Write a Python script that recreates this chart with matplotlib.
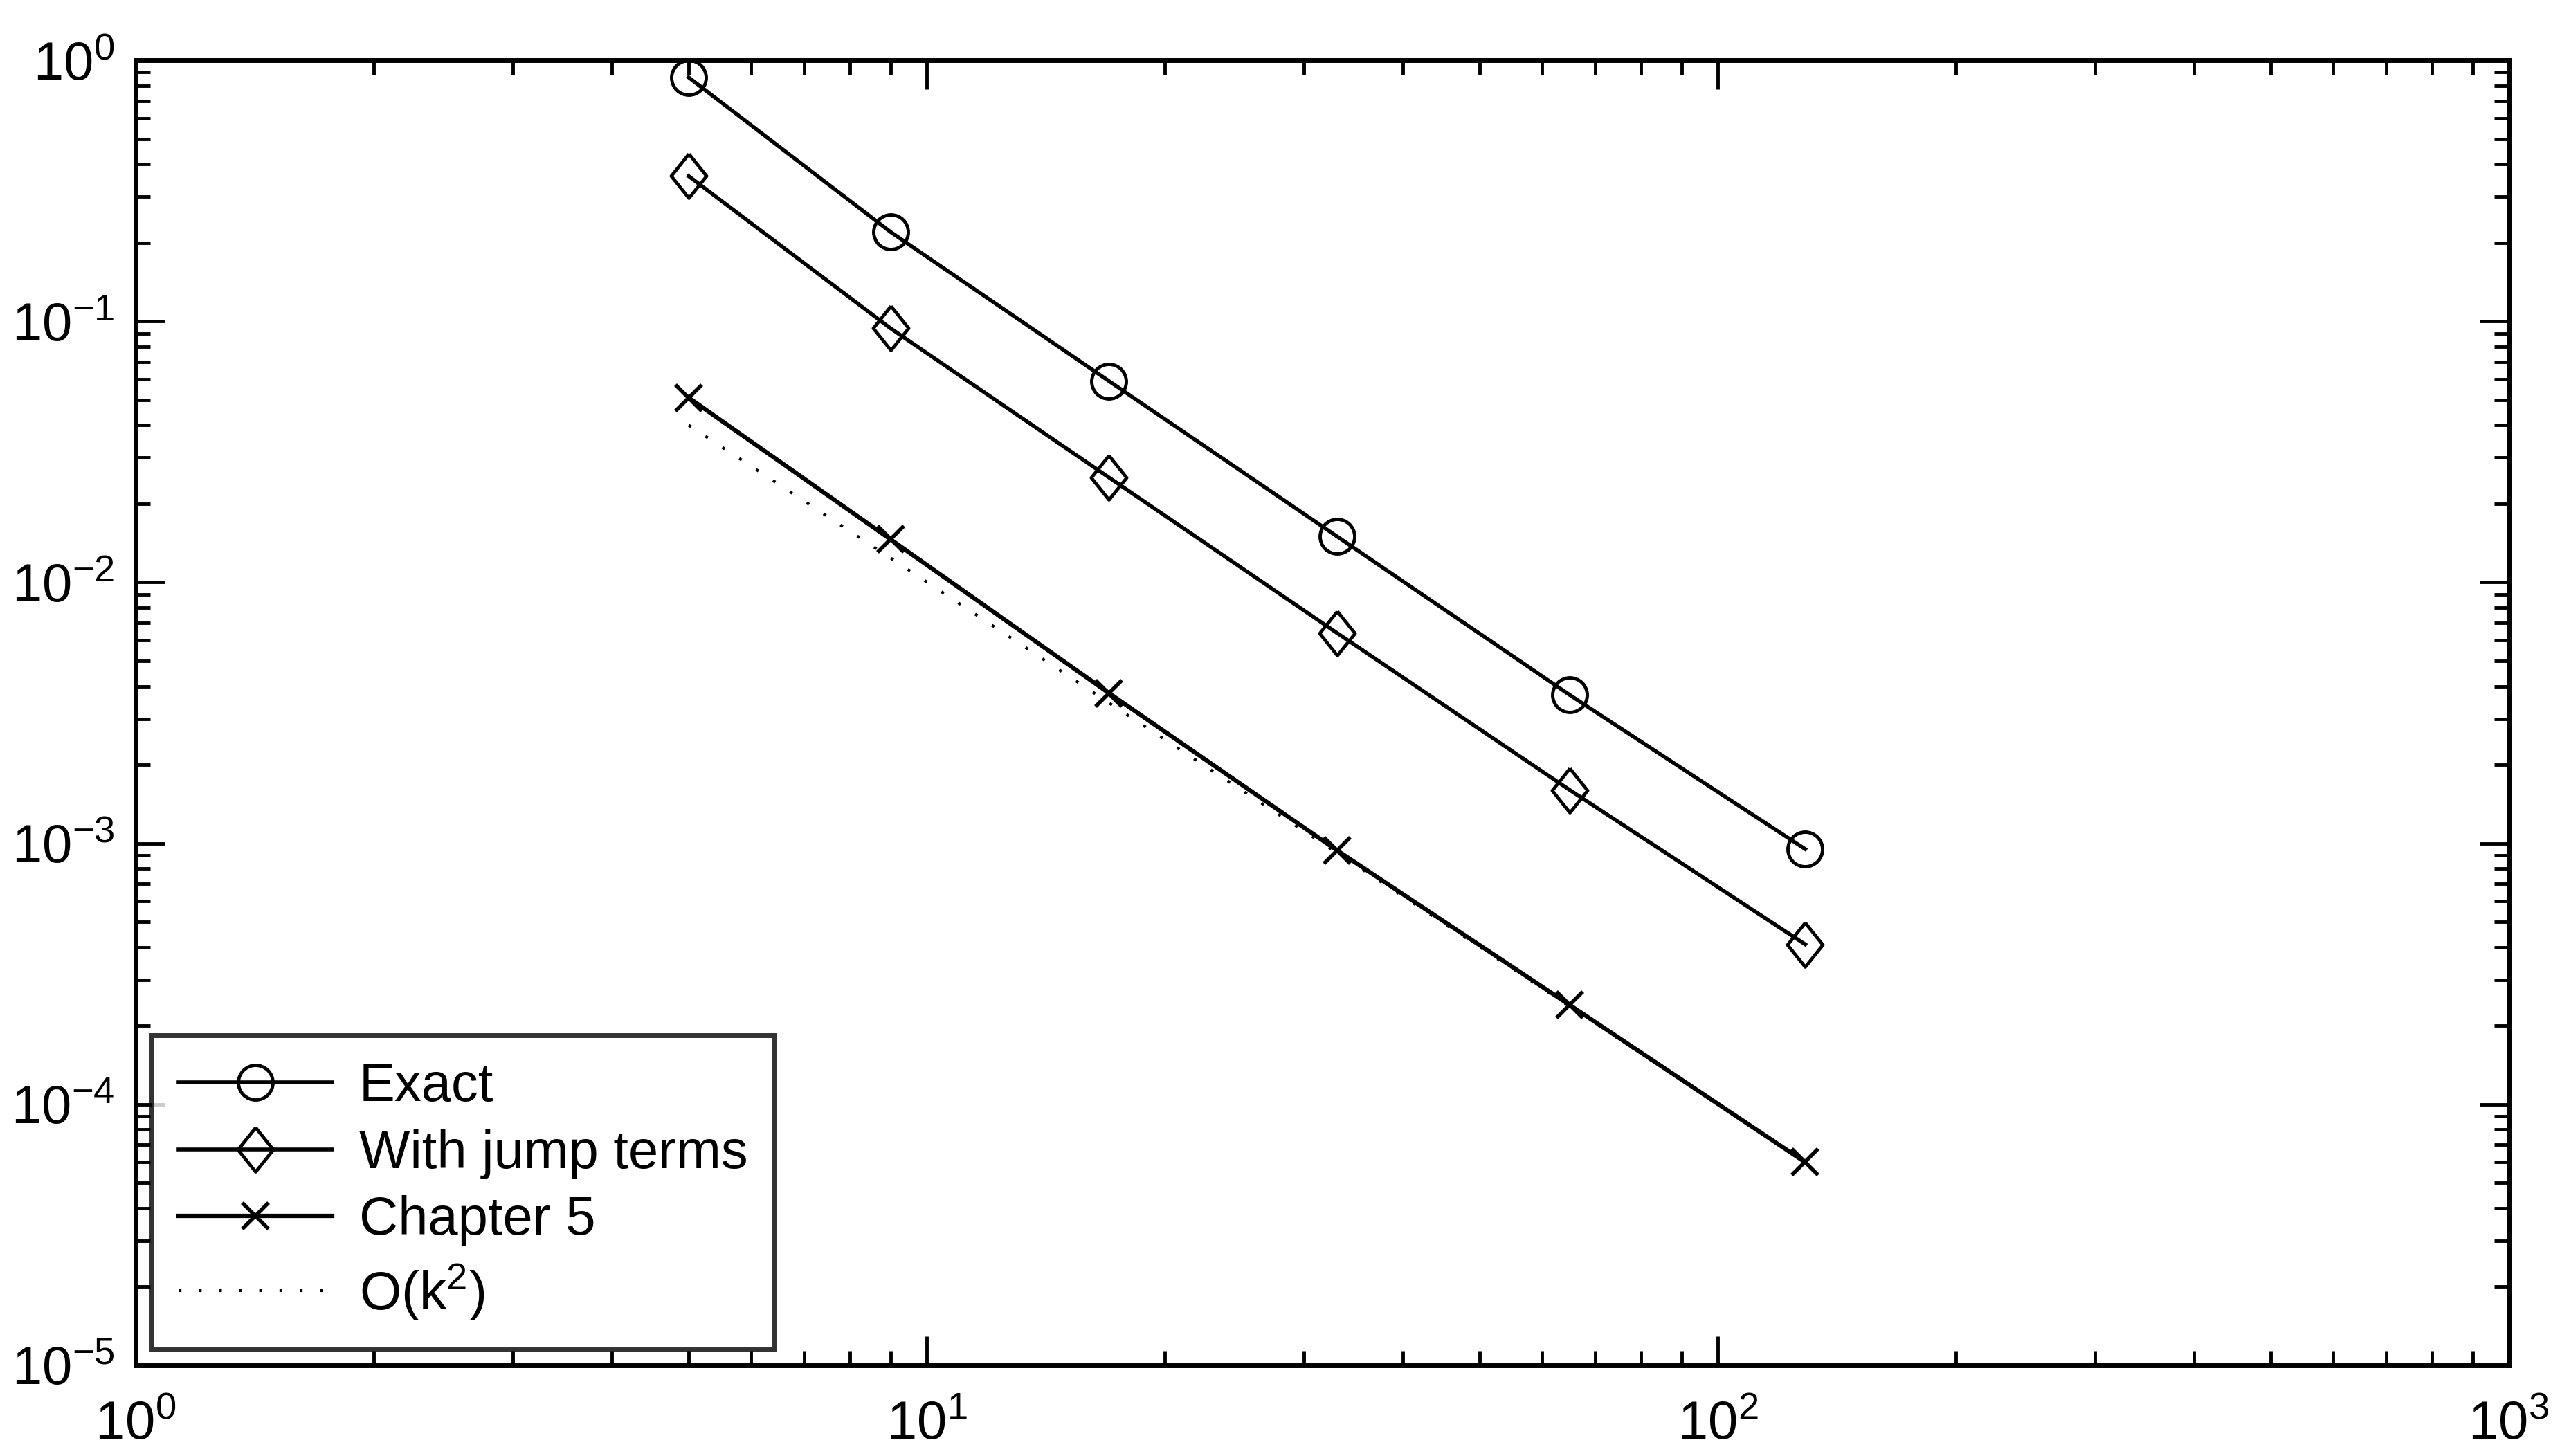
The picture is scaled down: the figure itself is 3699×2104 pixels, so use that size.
import numpy as np
import matplotlib
matplotlib.use('Agg')
import matplotlib.pyplot as plt

plt.rcParams['font.family'] = ['Liberation Sans', 'DejaVu Sans']
plt.rcParams['mathtext.fontset'] = 'custom'
plt.rcParams['mathtext.rm'] = 'Liberation Sans'
plt.rcParams['mathtext.it'] = 'Liberation Sans:italic'
plt.rcParams['mathtext.default'] = 'regular'

# data
N = [5, 9, 17, 33, 65, 129]
exact = [0.86, 0.22, 0.059, 0.015, 0.0037, 0.00095]
jump = [0.36, 0.094, 0.0252, 0.0064, 0.00160, 0.00041]
chap5 = [0.051, 0.0146, 0.00376, 0.00094, 0.000240, 0.0000600]
order2 = [0.040, 0.0124, 0.00345, 0.00092, 0.000237, 0.0000601]

# diamond a bit taller than wide, like the matlab one
diamond = [(0, 1), (0.8, 0), (0, -1), (-0.8, 0), (0, 1)]

fig = plt.figure(figsize=(36.99, 21.04), dpi=100)
ax = fig.add_axes([0.053, 0.0623, 0.927, 0.8963])

ax.loglog(N, exact, '-', marker='o', color='k', lw=4, ms=36, mew=3.5, mfc='none', label='Exact')
ax.loglog(N, jump, '-', marker=diamond, color='k', lw=4, ms=46, mew=3.5, mfc='none',
          label='With jump terms')
ax.loglog(N, chap5, '-x', color='k', lw=4.5, ms=28, mew=4, label='Chapter 5')
ax.loglog(N, order2, color='k', lw=3, ls=(0, (1, 6)), label='O(k$^2$)')

ax.set_xlim(1, 1000)
ax.set_ylim(1e-5, 1)

for s in ax.spines.values():
    s.set_linewidth(5)
ax.tick_params(which='both', direction='in', top=True, right=True, width=3.5)
ax.tick_params(which='major', length=30, labelsize=56)
ax.tick_params(axis='x', which='major', pad=36)
ax.tick_params(axis='y', which='major', pad=22)
ax.tick_params(which='minor', length=15)

leg = ax.legend(loc='lower left', fontsize=56, frameon=True, fancybox=False,
                edgecolor='k', handlelength=2.85, handletextpad=0.5,
                borderaxespad=0.3, borderpad=0.5, labelspacing=0.3)
leg.get_frame().set_linewidth(5)

fig.savefig('out.png', dpi=100, facecolor='white')
